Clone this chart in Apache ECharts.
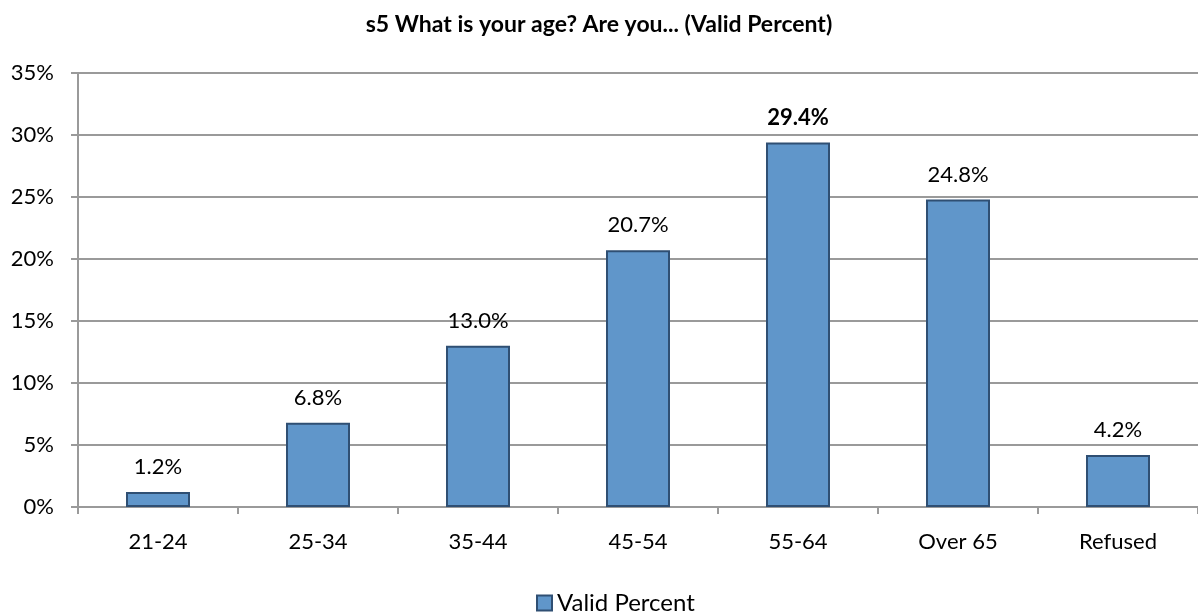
<!DOCTYPE html>
<html><head><meta charset="utf-8">
<script src="https://cdn.jsdelivr.net/npm/echarts@6/dist/echarts.min.js"></script>
<style>html,body{margin:0;padding:0;background:#fff}#c{width:1198px;height:616px}</style>
</head><body><div id="c"></div>
<script>
const categories = ['21-24','25-34','35-44','45-54','55-64','Over 65','Refused'];
const values = [1.2, 6.8, 13.0, 20.7, 29.4, 24.8, 4.2];
const seriesName = 'Valid Percent';
const titleText = 's5 What is your age? Are you... (Valid Percent)';
const maxIdx = values.indexOf(Math.max(...values));
const FONT = 'Lato, "Open Sans", sans-serif';

const chart = echarts.init(document.getElementById('c'));
chart.setOption({
  animation: false,
  title: { text: titleText, left: 'center', top: 8,
    textStyle: { fontFamily: FONT, fontSize: 23, fontWeight: 'bold', color: '#000' } },
  legend: { top: 586, left: 531, itemWidth: 15, itemHeight: 15, itemGap: 4,
    icon: 'rect',
    textStyle: { fontFamily: FONT, fontSize: 24, color: '#000', padding: [0,0,0,0] },
    data: [seriesName] },
  grid: { left: 78, top: 73, width: 1122, height: 434 },
  xAxis: { type: 'category', data: categories,
    axisLine: { lineStyle: { color: '#9a9a9a', width: 2 } },
    axisTick: { show: true, alignWithLabel: false, length: 7, lineStyle: { color: '#9a9a9a', width: 2 } },
    axisLabel: { fontFamily: FONT, fontSize: 22, color: '#000', margin: 24 } },
  yAxis: { type: 'value', min: 0, max: 35, interval: 5,
    axisLine: { show: true, lineStyle: { color: '#9a9a9a', width: 2 } },
    axisTick: { show: true, length: 7, lineStyle: { color: '#9a9a9a', width: 2 } },
    splitLine: { lineStyle: { color: '#9a9a9a', width: 2 } },
    axisLabel: { formatter: '{value}%', fontFamily: FONT, fontSize: 22, color: '#000', margin: 24 } },
  series: [{
    name: seriesName, type: 'bar', barWidth: 64,
    data: values.map((v, i) => ({ value: v,
      label: { fontWeight: i === maxIdx ? 'bold' : 'normal' } })),
    itemStyle: { color: '#6096ca', borderColor: '#2f4f73', borderWidth: 2 },
    label: { show: true, position: 'top', distance: 14, formatter: p => p.value.toFixed(1) + '%',
      fontFamily: FONT, fontSize: 22, color: '#000' }
  }]
});
</script></body></html>
